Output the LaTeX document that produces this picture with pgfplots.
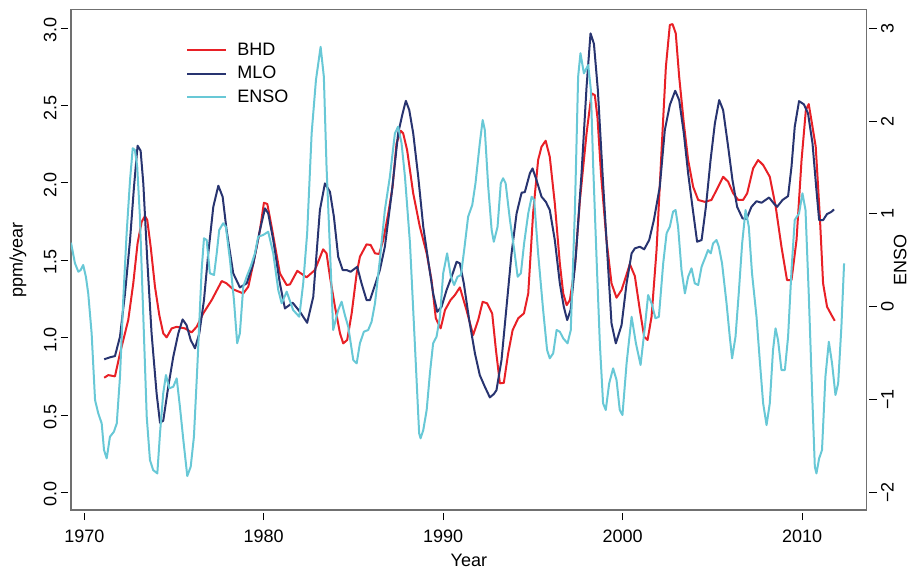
\documentclass[border=0pt]{standalone}
\usepackage{fontspec}
\setmainfont{Liberation Sans}
\usepackage{pgfplots}
\pgfplotsset{compat=1.18}
\definecolor{bhd}{RGB}{232,32,38}
\definecolor{mlo}{RGB}{40,52,112}
\definecolor{enso}{RGB}{104,200,214}
\definecolor{boxgray}{RGB}{112,112,112}

\begin{document}
\begin{tikzpicture}
\useasboundingbox (-35.5pt,-29pt) rectangle (422.5pt,255pt);
\pgfplotsset{common/.style={
  scale only axis, width=397.85pt, height=250.15pt,
  xmin=1969.26, xmax=2013.6, at={(0pt,0pt)}, anchor=south west,
  tick align=outside, major tick length=3.7pt,
  font=\fontsize{9}{10.8}\selectfont,
  /pgf/number format/assume math mode=true,
  every axis plot/.append style={line width=1pt, line join=round},
}}
\begin{axis}[common,
  ymin=-0.114, ymax=3.12,
  axis line style={boxgray, line width=0.6pt},
  xtick={1970,1980,1990,2000,2010},
  xticklabels={1970,1980,1990,2000,2010},
  ytick={0,0.5,1,1.5,2,2.5,3},
  yticklabels={0.0,0.5,1.0,1.5,2.0,2.5,3.0},
  xtick pos=left, ytick pos=left,
  x tick style={black, line width=0.5pt, yshift=-1.4pt},
  y tick style={black, line width=0.5pt, xshift=-1.4pt},
  xticklabel style={yshift=-2.8pt},
  yticklabel style={rotate=90, anchor=south, xshift=-1pt},
  xlabel={Year}, ylabel={ppm/year},
  xlabel style={at={(axis description cs:0.5,-0.0999)}, anchor=center},
  ylabel style={at={(axis description cs:-0.0666,0.5)}, anchor=center, rotate=0},
  legend style={draw=none, fill=none, at={(0.1445,0.9374)}, anchor=north west,
    inner sep=0pt, row sep=2.75pt, column sep=5pt,
    nodes={inner sep=0pt, text height=7pt, text depth=2pt},
    font=\fontsize{9}{10.8}\selectfont},
  legend cell align=left,
  legend image code/.code={\draw[#1] (0pt,0pt) -- (19.5pt,0pt);},
]
\addplot[bhd] coordinates {
(1971.11,0.741) (1971.34,0.758) (1971.71,0.750) (1971.99,0.898) (1972.45,1.114)
(1972.73,1.351) (1972.97,1.610) (1973.20,1.749) (1973.38,1.786) (1973.51,1.760)
(1973.70,1.588) (1973.94,1.329) (1974.18,1.146) (1974.40,1.028) (1974.59,1.002)
(1974.87,1.060) (1975.15,1.070) (1975.61,1.060) (1975.98,1.034) (1976.26,1.070)
(1976.63,1.157) (1977.10,1.243) (1977.66,1.366) (1977.93,1.351) (1978.30,1.312)
(1978.86,1.286) (1979.14,1.329) (1979.42,1.480) (1979.79,1.696) (1980.01,1.872)
(1980.20,1.864) (1980.44,1.717) (1980.90,1.416) (1981.28,1.340) (1981.46,1.344)
(1981.87,1.432) (1982.39,1.390) (1982.85,1.437) (1983.31,1.571) (1983.50,1.545)
(1983.69,1.394) (1983.97,1.200) (1984.25,1.028) (1984.43,0.963) (1984.65,0.985)
(1984.90,1.157) (1985.18,1.416) (1985.36,1.523) (1985.73,1.603) (1985.96,1.599)
(1986.20,1.545) (1986.43,1.541) (1986.66,1.631) (1986.94,1.803) (1987.18,1.975)
(1987.40,2.256) (1987.64,2.337) (1987.77,2.321) (1987.99,2.213) (1988.33,1.933)
(1988.70,1.717) (1989.08,1.545) (1989.35,1.372) (1989.59,1.125) (1989.86,1.060)
(1990.10,1.178) (1990.41,1.243) (1990.65,1.275) (1990.93,1.325) (1991.30,1.178)
(1991.67,1.017) (1991.95,1.114) (1992.20,1.232) (1992.45,1.222) (1992.73,1.157)
(1992.94,0.920) (1993.16,0.705) (1993.38,0.708) (1993.62,0.898) (1993.87,1.049)
(1994.18,1.125) (1994.50,1.157) (1994.74,1.286) (1995.01,1.803) (1995.29,2.148)
(1995.48,2.234) (1995.71,2.273) (1995.94,2.169) (1996.22,1.868) (1996.50,1.480)
(1996.69,1.286) (1996.88,1.210) (1997.06,1.243) (1997.34,1.458) (1997.62,1.890)
(1997.99,2.321) (1998.27,2.579) (1998.45,2.568) (1998.60,2.420) (1998.80,2.050)
(1999.10,1.631) (1999.38,1.351) (1999.66,1.258) (1999.94,1.308) (2000.18,1.394)
(2000.40,1.476) (2000.68,1.398) (2000.96,1.178) (2001.20,1.006) (2001.39,0.985)
(2001.61,1.135) (2001.89,1.566) (2002.17,2.213) (2002.41,2.751) (2002.63,3.021)
(2002.78,3.027) (2002.96,2.967) (2003.15,2.687) (2003.41,2.385) (2003.65,2.148)
(2003.93,1.975) (2004.21,1.890) (2004.58,1.878) (2004.95,1.890) (2005.23,1.954)
(2005.60,2.040) (2005.88,2.008) (2006.16,1.933) (2006.44,1.890) (2006.71,1.890)
(2006.94,1.933) (2007.27,2.094) (2007.55,2.148) (2007.83,2.116) (2008.20,2.040)
(2008.53,1.846) (2008.85,1.588) (2009.16,1.372) (2009.41,1.372) (2009.69,1.631)
(2009.97,2.148) (2010.21,2.471) (2010.37,2.510) (2010.58,2.363) (2010.76,2.234)
(2010.99,1.782) (2011.17,1.351) (2011.39,1.200) (2011.64,1.146) (2011.82,1.109)
};
\addlegendentry{BHD}
\addplot[mlo] coordinates {
(1971.11,0.860) (1971.43,0.873) (1971.71,0.881) (1971.99,1.006) (1972.27,1.286)
(1972.55,1.631) (1972.77,1.975) (1972.97,2.241) (1973.14,2.208) (1973.29,1.997)
(1973.51,1.502) (1973.75,1.028) (1974.03,0.640) (1974.22,0.450) (1974.40,0.463)
(1974.68,0.683) (1974.96,0.877) (1975.24,1.028) (1975.48,1.118) (1975.70,1.081)
(1975.93,0.985) (1976.17,0.931) (1976.41,1.028) (1976.67,1.243) (1976.91,1.545)
(1977.19,1.846) (1977.47,1.982) (1977.71,1.911) (1977.93,1.696) (1978.30,1.416)
(1978.67,1.325) (1979.05,1.351) (1979.42,1.480) (1979.79,1.696) (1980.07,1.836)
(1980.25,1.803) (1980.53,1.631) (1980.90,1.351) (1981.18,1.189) (1981.61,1.226)
(1982.02,1.167) (1982.42,1.096) (1982.76,1.264) (1983.13,1.825) (1983.41,1.997)
(1983.69,1.943) (1983.91,1.782) (1984.15,1.523) (1984.40,1.437) (1984.62,1.437)
(1984.84,1.426) (1985.21,1.458) (1985.45,1.351) (1985.73,1.243) (1985.92,1.243)
(1986.20,1.340) (1986.47,1.437) (1986.75,1.588) (1987.13,1.933) (1987.49,2.321)
(1987.74,2.450) (1987.92,2.531) (1988.11,2.471) (1988.33,2.321) (1988.61,2.040)
(1988.89,1.717) (1989.16,1.502) (1989.44,1.286) (1989.67,1.167) (1989.91,1.200)
(1990.19,1.308) (1990.47,1.394) (1990.75,1.491) (1990.93,1.480) (1991.15,1.351)
(1991.45,1.114) (1991.77,0.898) (1992.04,0.758) (1992.32,0.683) (1992.60,0.614)
(1992.82,0.635) (1992.97,0.661) (1993.25,0.855) (1993.53,1.200) (1993.81,1.545)
(1994.09,1.803) (1994.37,1.937) (1994.55,1.941) (1994.83,2.062) (1994.98,2.094)
(1995.20,2.019) (1995.48,1.911) (1995.72,1.878) (1995.94,1.825) (1996.22,1.631)
(1996.50,1.351) (1996.72,1.200) (1996.91,1.114) (1997.10,1.178) (1997.39,1.523)
(1997.71,2.062) (1997.99,2.622) (1998.21,2.967) (1998.40,2.900) (1998.62,2.600)
(1998.91,2.000) (1999.19,1.458) (1999.38,1.092) (1999.62,0.963) (1999.94,1.081)
(2000.22,1.351) (2000.50,1.545) (2000.68,1.577) (2000.96,1.588) (2001.20,1.571)
(2001.48,1.631) (2001.74,1.760) (2002.07,1.975) (2002.35,2.342) (2002.63,2.504)
(2002.93,2.596) (2003.15,2.536) (2003.41,2.321) (2003.65,2.062) (2003.89,1.846)
(2004.15,1.620) (2004.40,1.631) (2004.64,1.846) (2004.90,2.148) (2005.14,2.385)
(2005.38,2.536) (2005.60,2.471) (2005.88,2.234) (2006.12,2.019) (2006.38,1.846)
(2006.68,1.771) (2006.90,1.767) (2007.18,1.846) (2007.46,1.882) (2007.74,1.872)
(2008.16,1.906) (2008.42,1.868) (2008.61,1.846) (2008.91,1.890) (2009.22,1.915)
(2009.41,2.105) (2009.59,2.363) (2009.83,2.529) (2010.10,2.508) (2010.33,2.450)
(2010.58,2.256) (2010.80,1.954) (2010.95,1.760) (2011.17,1.760) (2011.39,1.799)
(2011.64,1.814) (2011.78,1.829)
};
\addlegendentry{MLO}
\addlegendimage{enso}
\addlegendentry{ENSO}
\end{axis}
\begin{axis}[common,
  ymin=-2.19, ymax=3.2,
  hide x axis,
  axis y line*=right,
  y axis line style={draw=none},
  ytick={-2,-1,0,1,2,3},
  yticklabels={−2,−1,0,1,2,3},
  y tick style={black, line width=0.5pt, xshift=1.4pt},
  yticklabel style={rotate=90, anchor=north},
  ylabel={ENSO},
  ylabel style={at={(axis description cs:1.042,0.5)}, anchor=center, rotate=0},
]
\addplot[enso] coordinates {
(1969.26,0.690) (1969.48,0.468) (1969.67,0.377) (1969.80,0.395) (1969.94,0.449)
(1970.09,0.323) (1970.22,0.144) (1970.41,-0.287) (1970.60,-1.005) (1970.78,-1.149)
(1970.97,-1.257) (1971.10,-1.544) (1971.25,-1.634) (1971.43,-1.401) (1971.65,-1.347)
(1971.81,-1.257) (1971.99,-0.754) (1972.17,0.072) (1972.36,0.791) (1972.55,1.365)
(1972.70,1.707) (1972.82,1.689) (1972.95,1.509) (1973.10,0.970) (1973.29,-0.108)
(1973.48,-1.185) (1973.66,-1.652) (1973.84,-1.760) (1974.07,-1.796) (1974.22,-1.364)
(1974.40,-0.933) (1974.55,-0.736) (1974.74,-0.879) (1974.96,-0.862) (1975.15,-0.772)
(1975.33,-1.078) (1975.52,-1.436) (1975.74,-1.824) (1975.93,-1.724) (1976.11,-1.401)
(1976.30,-0.647) (1976.54,0.395) (1976.67,0.737) (1976.82,0.719) (1977.00,0.360)
(1977.23,0.342) (1977.38,0.575) (1977.52,0.827) (1977.74,0.899) (1977.89,0.862)
(1978.12,0.503) (1978.34,0.072) (1978.52,-0.394) (1978.67,-0.287) (1978.86,0.216)
(1979.05,0.323) (1979.27,0.431) (1979.51,0.575) (1979.69,0.754) (1979.97,0.773)
(1980.25,0.808) (1980.53,0.575) (1980.81,0.180) (1981.00,0.037) (1981.28,0.162)
(1981.64,-0.036) (1981.98,-0.108) (1982.20,0.252) (1982.42,0.791) (1982.67,1.869)
(1982.91,2.443) (1983.17,2.800) (1983.35,2.478) (1983.50,1.509) (1983.73,0.431)
(1983.87,-0.251) (1984.15,-0.036) (1984.34,0.054) (1984.52,-0.089) (1984.71,-0.216)
(1984.99,-0.574) (1985.18,-0.610) (1985.36,-0.394) (1985.58,-0.269) (1985.82,-0.251)
(1986.01,-0.162) (1986.20,0.037) (1986.47,0.503) (1986.75,1.042) (1987.03,1.401)
(1987.31,1.869) (1987.49,1.940) (1987.68,1.761) (1987.87,1.401) (1988.15,0.683)
(1988.42,-0.394) (1988.66,-1.364) (1988.74,-1.418) (1988.89,-1.329) (1989.08,-1.113)
(1989.26,-0.718) (1989.44,-0.394) (1989.63,-0.323) (1989.82,-0.108) (1990.00,0.360)
(1990.22,0.575) (1990.43,0.323) (1990.61,0.234) (1990.80,0.323) (1990.99,0.342)
(1991.17,0.611) (1991.39,0.970) (1991.62,1.096) (1991.80,1.330) (1992.04,1.761)
(1992.20,2.012) (1992.32,1.904) (1992.51,1.293) (1992.70,0.827) (1992.82,0.700)
(1993.03,0.862) (1993.21,1.330) (1993.34,1.384) (1993.48,1.330) (1993.72,0.934)
(1993.96,0.611) (1994.15,0.323) (1994.33,0.360) (1994.51,0.683) (1994.74,1.006)
(1994.93,1.185) (1995.07,1.150) (1995.29,0.575) (1995.57,-0.036) (1995.79,-0.467)
(1995.94,-0.556) (1996.13,-0.502) (1996.32,-0.251) (1996.50,-0.269) (1996.69,-0.341)
(1996.93,-0.394) (1997.11,-0.251) (1997.34,1.042) (1997.52,2.478) (1997.65,2.731)
(1997.84,2.515) (1998.08,2.604) (1998.23,2.335) (1998.36,1.509) (1998.55,0.503)
(1998.73,-0.394) (1998.91,-1.041) (1999.06,-1.113) (1999.25,-0.826) (1999.47,-0.664)
(1999.66,-0.790) (1999.84,-1.113) (1999.99,-1.167) (2000.22,-0.610) (2000.50,-0.108)
(2000.74,-0.394) (2001.00,-0.628) (2001.24,-0.216) (2001.42,0.126) (2001.61,0.037)
(2001.83,-0.125) (2002.02,-0.108) (2002.26,0.467) (2002.45,0.791) (2002.63,0.862)
(2002.81,1.024) (2002.95,1.042) (2003.09,0.862) (2003.28,0.395) (2003.47,0.144)
(2003.65,0.323) (2003.84,0.414) (2004.02,0.252) (2004.21,0.234) (2004.40,0.431)
(2004.62,0.539) (2004.76,0.611) (2004.91,0.575) (2005.04,0.683) (2005.23,0.719)
(2005.36,0.647) (2005.54,0.467) (2005.79,0.037) (2005.97,-0.323) (2006.10,-0.556)
(2006.29,-0.323) (2006.47,0.144) (2006.66,0.683) (2006.85,1.042) (2007.03,0.862)
(2007.21,0.360) (2007.46,-0.108) (2007.64,-0.574) (2007.83,-1.041) (2008.02,-1.275)
(2008.20,-1.041) (2008.38,-0.467) (2008.52,-0.233) (2008.66,-0.359) (2008.85,-0.682)
(2009.04,-0.682) (2009.22,-0.323) (2009.41,0.395) (2009.59,0.934) (2009.83,1.006)
(2010.02,1.222) (2010.19,1.042) (2010.37,0.144) (2010.56,-0.933) (2010.71,-1.724)
(2010.80,-1.796) (2010.95,-1.634) (2011.11,-1.544) (2011.30,-0.754) (2011.49,-0.377)
(2011.67,-0.610) (2011.86,-0.951) (2012.01,-0.826) (2012.19,-0.216) (2012.34,0.467)
};
\end{axis}
\end{tikzpicture}
\end{document}
